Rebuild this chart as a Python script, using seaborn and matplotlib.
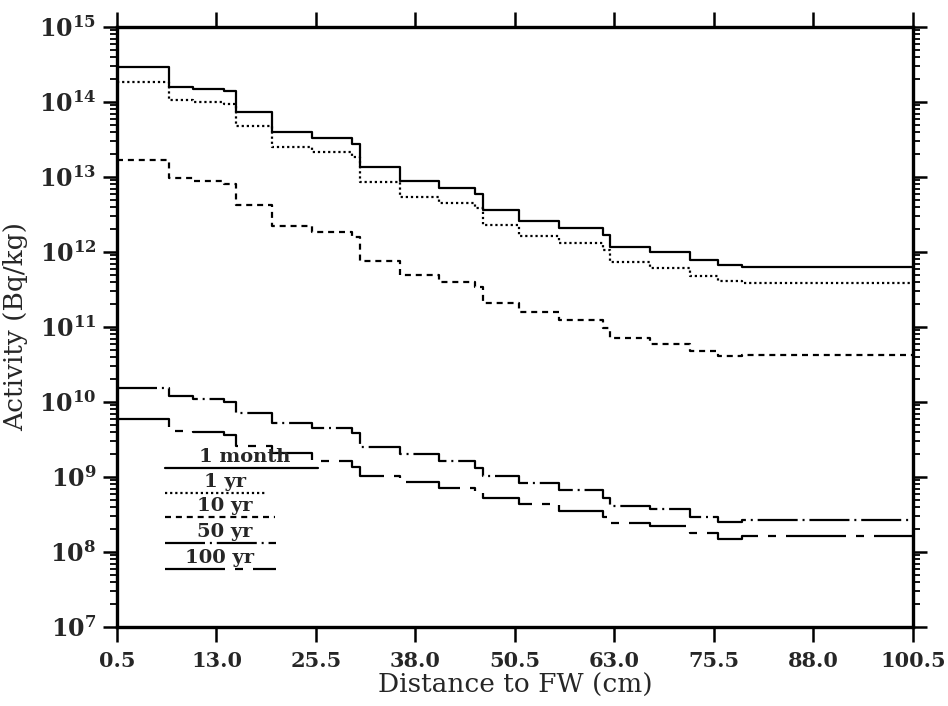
import numpy as np
import pandas as pd
import matplotlib
matplotlib.use("Agg")
import matplotlib.pyplot as plt
from matplotlib.ticker import FixedLocator, FuncFormatter, LogLocator, NullFormatter
import seaborn as sns

# zone edges along the radial direction (cm)
edges = [0.5, 7.0, 10.0, 14.0, 15.5, 20.0, 25.0, 30.0, 31.0, 36.0, 41.0,
         45.5, 46.5, 51.0, 56.0, 61.5, 62.5, 67.5, 72.5, 76.0, 79.0, 100.5]

# activity per zone (Bq/kg)
act_1month = [2.9e14, 1.6e14, 1.5e14, 1.4e14, 7.4e13, 4.0e13, 3.3e13, 2.75e13,
              1.36e13, 8.8e12, 7.1e12, 5.9e12, 3.6e12, 2.6e12, 2.1e12, 1.7e12,
              1.17e12, 1.0e12, 7.8e11, 6.7e11, 6.3e11]
act_1yr = [1.85e14, 1.06e14, 1.0e14, 9.4e13, 4.8e13, 2.5e13, 2.15e13, 1.85e13,
           8.6e12, 5.4e12, 4.5e12, 3.9e12, 2.3e12, 1.63e12, 1.32e12, 1.06e12,
           7.4e11, 6.1e11, 4.8e11, 4.1e11, 3.9e11]
act_10yr = [1.69e13, 9.7e12, 8.8e12, 8.1e12, 4.2e12, 2.2e12, 1.85e12, 1.58e12,
            7.6e11, 4.9e11, 4.0e11, 3.4e11, 2.1e11, 1.58e11, 1.24e11, 9.7e10,
            7.1e10, 5.9e10, 4.8e10, 4.1e10, 4.2e10]
act_50yr = [1.54e10, 1.2e10, 1.1e10, 1.0e10, 7.1e9, 5.2e9, 4.5e9, 3.9e9,
            2.5e9, 2.0e9, 1.63e9, 1.32e9, 1.03e9, 8.3e8, 6.7e8, 5.2e8,
            4.1e8, 3.7e8, 2.9e8, 2.5e8, 2.7e8]
act_100yr = [5.9e9, 4.1e9, 4.0e9, 3.6e9, 2.6e9, 2.1e9, 1.63e9, 1.36e9,
             1.03e9, 8.6e8, 7.1e8, 6.1e8, 5.2e8, 4.4e8, 3.5e8, 2.9e8,
             2.4e8, 2.2e8, 1.8e8, 1.5e8, 1.63e8]

labels = ["1 month", "1 yr", "10 yr", "50 yr", "100 yr"]
series = [act_1month, act_1yr, act_10yr, act_50yr, act_100yr]
x_ticks = [0.5, 13.0, 25.5, 38.0, 50.5, 63.0, 75.5, 88.0, 100.5]

styles = {
    "1 month": "-",
    "1 yr": (0, (1.0, 1.3)),
    "10 yr": (0, (2.7, 2.2)),
    "50 yr": (0, (18, 2.2, 0.9, 2.2)),
    "100 yr": (0, (27, 4.5, 3.6, 4.5)),
}

rows = []
for lab, vals in zip(labels, series):
    ys = list(vals) + [vals[-1]]
    for xe, v in zip(edges, ys):
        rows.append({"dist": xe, "act": v, "case": lab})
df = pd.DataFrame(rows)

sns.set_style("ticks")
plt.rcParams["font.family"] = ["DejaVu Serif"]
plt.rcParams["mathtext.fontset"] = "dejavuserif"

fig = plt.figure(figsize=(9.48, 7.06), dpi=100)
ax = fig.add_axes([0.1234, 0.1119, 0.8396, 0.8499])

for lab in labels:
    sub = df[df["case"] == lab]
    sns.lineplot(data=sub, x="dist", y="act", ax=ax, color="black", lw=1.6,
                 drawstyle="steps-post", estimator=None, sort=False,
                 linestyle=styles[lab], legend=False)

ax.set_yscale("log")
ax.set_xlim(0.5, 100.5)
ax.set_ylim(1e7, 1e15)

ax.xaxis.set_major_locator(FixedLocator(x_ticks))
ax.xaxis.set_major_formatter(FuncFormatter(lambda v, p: f"{v:.1f}"))
ax.yaxis.set_major_locator(LogLocator(base=10, numticks=20))
ax.yaxis.set_minor_locator(LogLocator(base=10, subs=np.arange(2, 10), numticks=20))
ax.yaxis.set_minor_formatter(NullFormatter())
ax.yaxis.set_major_formatter(FuncFormatter(
    lambda v, p: rf"$\mathbf{{10^{{{int(round(np.log10(v)))}}}}}$"))

ax.tick_params(axis="both", which="both", direction="out", top=True, right=True,
               color="black", width=1.8)
ax.tick_params(axis="x", which="major", length=11, labelsize=15, pad=6)
ax.tick_params(axis="y", which="major", length=10, labelsize=17, pad=5)
ax.tick_params(axis="y", which="minor", length=5, width=1.3)
for lbl in ax.get_xticklabels():
    lbl.set_fontweight("bold")
for s in ax.spines.values():
    s.set_linewidth(2.4)
    s.set_color("black")

ax.set_xlabel("Distance to FW (cm)", fontsize=19)
ax.set_ylabel("Activity (Bq/kg)", fontsize=19)
ax.xaxis.set_label_coords(0.5, -0.077)
ax.yaxis.set_label_coords(-0.112, 0.5)

# hand drawn legend: label text above a sample of each line
leg = [
    ("1 month", 0.060, 0.2525, 0.265, 0.161),
    ("1 yr", 0.060, 0.188, 0.223, 0.136),
    ("10 yr", 0.060, 0.198, 0.183, 0.136),
    ("50 yr", 0.060, 0.200, 0.140, 0.136),
    ("100 yr", 0.060, 0.200, 0.0967, 0.129),
]
for lab, x0, x1, yy, xt in leg:
    ax.plot([x0, x1], [yy, yy], transform=ax.transAxes, color="black",
            lw=1.6, linestyle=styles[lab])
    ax.text(xt, yy + 0.004, lab, transform=ax.transAxes, ha="center",
            va="bottom", fontsize=14, fontweight="bold")

fig.savefig("out.png", dpi=100)
